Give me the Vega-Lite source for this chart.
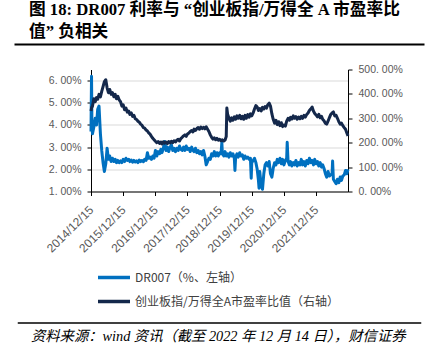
{
  "$schema": "https://vega.github.io/schema/vega-lite/v6.json",
  "background": "white",
  "padding": {"left": 13.5, "top": 1.5, "right": 0, "bottom": 0},
  "title": {
    "text": ["图 18: DR007 利率与 “创业板指/万得全 A 市盈率比", "值” 负相关"],
    "anchor": "start",
    "dx": 15.5,
    "offset": 3,
    "lineHeight": 22,
    "font": "Liberation Serif, Noto Sans CJK SC",
    "fontSize": 16.7,
    "fontWeight": "bold",
    "color": "#000000"
  },
  "datasets": {
    "one": [{"a": 0, "b": 1}],
    "dr": [
      {"d": "2014-12-15", "v": 3.7}, {"d": "2014-12-18", "v": 5.0}, {"d": "2014-12-21", "v": 6.2}, {"d": "2014-12-25", "v": 4.2},
      {"d": "2015-01-01", "v": 3.6}, {"d": "2015-01-16", "v": 3.9}, {"d": "2015-02-01", "v": 4.3}, {"d": "2015-02-16", "v": 4.0},
      {"d": "2015-03-01", "v": 4.7}, {"d": "2015-03-16", "v": 4.85}, {"d": "2015-04-01", "v": 3.6}, {"d": "2015-04-16", "v": 2.85},
      {"d": "2015-05-01", "v": 2.3}, {"d": "2015-05-16", "v": 1.9}, {"d": "2015-06-01", "v": 2.25}, {"d": "2015-06-16", "v": 2.95},
      {"d": "2015-07-01", "v": 2.45}, {"d": "2015-07-16", "v": 2.6}, {"d": "2015-08-01", "v": 2.35}, {"d": "2015-08-16", "v": 2.5},
      {"d": "2015-09-01", "v": 2.35}, {"d": "2015-09-16", "v": 2.45}, {"d": "2015-10-01", "v": 2.3}, {"d": "2015-10-16", "v": 2.4},
      {"d": "2015-11-01", "v": 2.3}, {"d": "2015-11-16", "v": 2.38}, {"d": "2015-12-01", "v": 2.3}, {"d": "2015-12-16", "v": 2.45},
      {"d": "2016-01-01", "v": 2.35}, {"d": "2016-01-16", "v": 2.5}, {"d": "2016-02-01", "v": 2.4}, {"d": "2016-02-16", "v": 2.45},
      {"d": "2016-03-01", "v": 2.35}, {"d": "2016-03-16", "v": 2.42}, {"d": "2016-04-01", "v": 2.32}, {"d": "2016-04-16", "v": 2.4},
      {"d": "2016-05-01", "v": 2.33}, {"d": "2016-05-16", "v": 2.38}, {"d": "2016-06-01", "v": 2.3}, {"d": "2016-06-16", "v": 2.42},
      {"d": "2016-07-01", "v": 2.35}, {"d": "2016-07-16", "v": 2.4}, {"d": "2016-08-01", "v": 2.34}, {"d": "2016-08-16", "v": 2.45},
      {"d": "2016-09-01", "v": 2.4}, {"d": "2016-09-16", "v": 2.75}, {"d": "2016-10-01", "v": 2.5}, {"d": "2016-10-16", "v": 2.55},
      {"d": "2016-11-01", "v": 2.45}, {"d": "2016-11-16", "v": 2.6}, {"d": "2016-12-01", "v": 2.5}, {"d": "2016-12-16", "v": 2.85},
      {"d": "2017-01-01", "v": 2.6}, {"d": "2017-01-16", "v": 2.8}, {"d": "2017-02-01", "v": 2.7}, {"d": "2017-02-16", "v": 2.9},
      {"d": "2017-03-01", "v": 2.75}, {"d": "2017-03-16", "v": 2.95}, {"d": "2017-04-01", "v": 3.25}, {"d": "2017-04-16", "v": 2.85},
      {"d": "2017-05-01", "v": 3.0}, {"d": "2017-05-16", "v": 2.8}, {"d": "2017-06-01", "v": 3.0}, {"d": "2017-06-16", "v": 3.1},
      {"d": "2017-07-01", "v": 2.85}, {"d": "2017-07-16", "v": 2.95}, {"d": "2017-08-01", "v": 2.8}, {"d": "2017-08-16", "v": 2.95},
      {"d": "2017-09-01", "v": 2.85}, {"d": "2017-09-16", "v": 3.05}, {"d": "2017-10-01", "v": 2.9}, {"d": "2017-10-16", "v": 2.85},
      {"d": "2017-11-01", "v": 3.0}, {"d": "2017-11-16", "v": 2.85}, {"d": "2017-12-01", "v": 3.05}, {"d": "2017-12-16", "v": 2.9},
      {"d": "2018-01-01", "v": 2.95}, {"d": "2018-01-16", "v": 2.8}, {"d": "2018-02-01", "v": 3.0}, {"d": "2018-02-16", "v": 2.85},
      {"d": "2018-03-01", "v": 2.8}, {"d": "2018-03-16", "v": 2.95}, {"d": "2018-04-01", "v": 2.75}, {"d": "2018-04-16", "v": 2.85},
      {"d": "2018-05-01", "v": 2.7}, {"d": "2018-05-16", "v": 2.8}, {"d": "2018-06-01", "v": 2.65}, {"d": "2018-06-16", "v": 2.85},
      {"d": "2018-07-01", "v": 2.6}, {"d": "2018-07-16", "v": 2.2}, {"d": "2018-08-01", "v": 2.35}, {"d": "2018-08-16", "v": 2.5},
      {"d": "2018-09-01", "v": 2.45}, {"d": "2018-09-16", "v": 2.7}, {"d": "2018-10-01", "v": 2.6}, {"d": "2018-10-16", "v": 2.8},
      {"d": "2018-11-01", "v": 2.6}, {"d": "2018-11-16", "v": 2.75}, {"d": "2018-12-01", "v": 2.6}, {"d": "2018-12-16", "v": 2.75},
      {"d": "2019-01-01", "v": 2.7}, {"d": "2019-01-10", "v": 3.2}, {"d": "2019-01-16", "v": 2.75}, {"d": "2019-02-01", "v": 2.6},
      {"d": "2019-02-16", "v": 2.8}, {"d": "2019-03-01", "v": 2.6}, {"d": "2019-03-16", "v": 2.7}, {"d": "2019-04-01", "v": 2.55},
      {"d": "2019-04-16", "v": 2.75}, {"d": "2019-05-01", "v": 2.6}, {"d": "2019-05-16", "v": 2.7}, {"d": "2019-06-01", "v": 2.5},
      {"d": "2019-06-08", "v": 1.95}, {"d": "2019-06-16", "v": 2.55}, {"d": "2019-07-01", "v": 2.7}, {"d": "2019-07-16", "v": 2.55},
      {"d": "2019-08-01", "v": 2.75}, {"d": "2019-08-16", "v": 2.6}, {"d": "2019-09-01", "v": 2.65}, {"d": "2019-09-16", "v": 2.45},
      {"d": "2019-10-01", "v": 2.6}, {"d": "2019-10-16", "v": 2.5}, {"d": "2019-11-01", "v": 2.55}, {"d": "2019-11-16", "v": 2.45},
      {"d": "2019-12-01", "v": 2.5}, {"d": "2019-12-10", "v": 1.6}, {"d": "2019-12-16", "v": 2.3},
      {"d": "2020-01-01", "v": 2.4}, {"d": "2020-01-16", "v": 2.5}, {"d": "2020-02-01", "v": 2.3}, {"d": "2020-02-16", "v": 2.0},
      {"d": "2020-03-01", "v": 1.5}, {"d": "2020-03-08", "v": 1.15}, {"d": "2020-03-16", "v": 1.9}, {"d": "2020-04-01", "v": 1.3},
      {"d": "2020-04-16", "v": 1.1}, {"d": "2020-05-01", "v": 1.8}, {"d": "2020-05-16", "v": 2.2}, {"d": "2020-06-01", "v": 2.3},
      {"d": "2020-06-16", "v": 2.15}, {"d": "2020-07-01", "v": 2.35}, {"d": "2020-07-16", "v": 1.8}, {"d": "2020-08-01", "v": 1.65},
      {"d": "2020-08-16", "v": 2.05}, {"d": "2020-09-01", "v": 2.3}, {"d": "2020-09-16", "v": 2.2}, {"d": "2020-10-01", "v": 2.45},
      {"d": "2020-10-16", "v": 2.3}, {"d": "2020-11-01", "v": 2.5}, {"d": "2020-11-16", "v": 2.25}, {"d": "2020-12-01", "v": 2.45},
      {"d": "2020-12-16", "v": 2.2},
      {"d": "2021-01-01", "v": 2.4}, {"d": "2021-01-16", "v": 2.5}, {"d": "2021-01-22", "v": 3.22}, {"d": "2021-02-01", "v": 2.35},
      {"d": "2021-02-16", "v": 2.2}, {"d": "2021-03-01", "v": 2.35}, {"d": "2021-03-16", "v": 2.15}, {"d": "2021-04-01", "v": 2.3},
      {"d": "2021-04-16", "v": 2.2}, {"d": "2021-05-01", "v": 2.4}, {"d": "2021-05-16", "v": 2.15}, {"d": "2021-06-01", "v": 2.3},
      {"d": "2021-06-16", "v": 2.2}, {"d": "2021-07-01", "v": 2.45}, {"d": "2021-07-16", "v": 2.2}, {"d": "2021-08-01", "v": 2.35},
      {"d": "2021-08-16", "v": 2.15}, {"d": "2021-09-01", "v": 2.4}, {"d": "2021-09-16", "v": 2.25}, {"d": "2021-10-01", "v": 2.5},
      {"d": "2021-10-16", "v": 2.3}, {"d": "2021-11-01", "v": 2.4}, {"d": "2021-11-16", "v": 2.2}, {"d": "2021-12-01", "v": 2.45},
      {"d": "2021-12-16", "v": 2.25},
      {"d": "2022-01-01", "v": 2.35}, {"d": "2022-01-16", "v": 2.15}, {"d": "2022-02-01", "v": 2.3}, {"d": "2022-02-16", "v": 2.1},
      {"d": "2022-03-01", "v": 2.2}, {"d": "2022-03-16", "v": 2.05}, {"d": "2022-04-01", "v": 1.8}, {"d": "2022-04-16", "v": 1.65},
      {"d": "2022-05-01", "v": 1.9}, {"d": "2022-05-16", "v": 1.7}, {"d": "2022-06-01", "v": 1.75}, {"d": "2022-06-16", "v": 1.8},
      {"d": "2022-06-22", "v": 2.37}, {"d": "2022-07-01", "v": 1.55}, {"d": "2022-07-16", "v": 1.45}, {"d": "2022-08-01", "v": 1.35},
      {"d": "2022-08-16", "v": 1.55}, {"d": "2022-09-01", "v": 1.4}, {"d": "2022-09-16", "v": 1.65}, {"d": "2022-10-01", "v": 1.5},
      {"d": "2022-10-16", "v": 1.7}, {"d": "2022-11-01", "v": 1.75}, {"d": "2022-11-16", "v": 1.95}, {"d": "2022-12-01", "v": 1.8},
      {"d": "2022-12-14", "v": 2.0}
    ],
    "pe": [
      {"d": "2014-12-15", "v": 330}, {"d": "2014-12-23", "v": 345},
      {"d": "2015-01-01", "v": 350}, {"d": "2015-01-16", "v": 380}, {"d": "2015-02-01", "v": 368}, {"d": "2015-02-16", "v": 385},
      {"d": "2015-03-01", "v": 378}, {"d": "2015-03-16", "v": 398}, {"d": "2015-04-01", "v": 388}, {"d": "2015-04-16", "v": 410},
      {"d": "2015-05-01", "v": 430}, {"d": "2015-05-16", "v": 450}, {"d": "2015-06-01", "v": 458}, {"d": "2015-06-16", "v": 425},
      {"d": "2015-07-01", "v": 405}, {"d": "2015-07-16", "v": 418}, {"d": "2015-08-01", "v": 398}, {"d": "2015-08-16", "v": 405},
      {"d": "2015-09-01", "v": 388}, {"d": "2015-09-16", "v": 398}, {"d": "2015-10-01", "v": 380}, {"d": "2015-10-16", "v": 390},
      {"d": "2015-11-01", "v": 375}, {"d": "2015-11-16", "v": 368}, {"d": "2015-12-01", "v": 350}, {"d": "2015-12-16", "v": 355},
      {"d": "2016-01-01", "v": 335}, {"d": "2016-01-16", "v": 342}, {"d": "2016-02-01", "v": 325}, {"d": "2016-02-16", "v": 330},
      {"d": "2016-03-01", "v": 316}, {"d": "2016-03-16", "v": 322}, {"d": "2016-04-01", "v": 308}, {"d": "2016-04-16", "v": 312},
      {"d": "2016-05-01", "v": 298}, {"d": "2016-05-16", "v": 295}, {"d": "2016-06-01", "v": 288}, {"d": "2016-06-16", "v": 284},
      {"d": "2016-07-01", "v": 276}, {"d": "2016-07-16", "v": 272}, {"d": "2016-08-01", "v": 262}, {"d": "2016-08-16", "v": 260},
      {"d": "2016-09-01", "v": 252}, {"d": "2016-09-16", "v": 248}, {"d": "2016-10-01", "v": 240}, {"d": "2016-10-16", "v": 235},
      {"d": "2016-11-01", "v": 226}, {"d": "2016-11-16", "v": 218}, {"d": "2016-12-01", "v": 212}, {"d": "2016-12-16", "v": 206},
      {"d": "2017-01-01", "v": 200}, {"d": "2017-01-16", "v": 205}, {"d": "2017-02-01", "v": 197}, {"d": "2017-02-16", "v": 203},
      {"d": "2017-03-01", "v": 195}, {"d": "2017-03-16", "v": 204}, {"d": "2017-04-01", "v": 198}, {"d": "2017-04-16", "v": 203},
      {"d": "2017-05-01", "v": 196}, {"d": "2017-05-16", "v": 205}, {"d": "2017-06-01", "v": 199}, {"d": "2017-06-16", "v": 206},
      {"d": "2017-07-01", "v": 200}, {"d": "2017-07-16", "v": 208}, {"d": "2017-08-01", "v": 203}, {"d": "2017-08-16", "v": 210},
      {"d": "2017-09-01", "v": 214}, {"d": "2017-09-16", "v": 207}, {"d": "2017-10-01", "v": 217}, {"d": "2017-10-16", "v": 222},
      {"d": "2017-11-01", "v": 228}, {"d": "2017-11-16", "v": 232}, {"d": "2017-12-01", "v": 226}, {"d": "2017-12-16", "v": 236},
      {"d": "2018-01-01", "v": 240}, {"d": "2018-01-16", "v": 246}, {"d": "2018-02-01", "v": 250}, {"d": "2018-02-16", "v": 244},
      {"d": "2018-03-01", "v": 256}, {"d": "2018-03-16", "v": 250}, {"d": "2018-04-01", "v": 258}, {"d": "2018-04-16", "v": 262},
      {"d": "2018-05-01", "v": 255}, {"d": "2018-05-16", "v": 264}, {"d": "2018-06-01", "v": 258}, {"d": "2018-06-16", "v": 263},
      {"d": "2018-07-01", "v": 257}, {"d": "2018-07-16", "v": 265}, {"d": "2018-08-01", "v": 255}, {"d": "2018-08-16", "v": 246},
      {"d": "2018-09-01", "v": 232}, {"d": "2018-09-16", "v": 222}, {"d": "2018-10-01", "v": 215}, {"d": "2018-10-16", "v": 220},
      {"d": "2018-11-01", "v": 212}, {"d": "2018-11-16", "v": 218}, {"d": "2018-12-01", "v": 210}, {"d": "2018-12-16", "v": 214},
      {"d": "2019-01-01", "v": 208}, {"d": "2019-01-16", "v": 212}, {"d": "2019-02-01", "v": 207}, {"d": "2019-02-16", "v": 211},
      {"d": "2019-03-01", "v": 225}, {"d": "2019-03-08", "v": 342}, {"d": "2019-03-16", "v": 318}, {"d": "2019-04-01", "v": 300},
      {"d": "2019-04-16", "v": 288}, {"d": "2019-05-01", "v": 302}, {"d": "2019-05-16", "v": 292}, {"d": "2019-06-01", "v": 306},
      {"d": "2019-06-16", "v": 296}, {"d": "2019-07-01", "v": 310}, {"d": "2019-07-16", "v": 300}, {"d": "2019-08-01", "v": 312},
      {"d": "2019-08-16", "v": 298}, {"d": "2019-09-01", "v": 308}, {"d": "2019-09-16", "v": 296}, {"d": "2019-10-01", "v": 312},
      {"d": "2019-10-16", "v": 300}, {"d": "2019-11-01", "v": 315}, {"d": "2019-11-16", "v": 305}, {"d": "2019-12-01", "v": 318},
      {"d": "2019-12-16", "v": 310},
      {"d": "2020-01-01", "v": 322}, {"d": "2020-01-16", "v": 338}, {"d": "2020-02-01", "v": 352}, {"d": "2020-02-16", "v": 346},
      {"d": "2020-03-01", "v": 332}, {"d": "2020-03-16", "v": 340}, {"d": "2020-04-01", "v": 330}, {"d": "2020-04-16", "v": 345},
      {"d": "2020-05-01", "v": 338}, {"d": "2020-05-16", "v": 348}, {"d": "2020-06-01", "v": 342}, {"d": "2020-06-16", "v": 356},
      {"d": "2020-07-01", "v": 362}, {"d": "2020-07-16", "v": 350}, {"d": "2020-08-01", "v": 318}, {"d": "2020-08-16", "v": 296},
      {"d": "2020-09-01", "v": 280}, {"d": "2020-09-16", "v": 292}, {"d": "2020-10-01", "v": 274}, {"d": "2020-10-16", "v": 286},
      {"d": "2020-11-01", "v": 270}, {"d": "2020-11-16", "v": 282}, {"d": "2020-12-01", "v": 266}, {"d": "2020-12-16", "v": 272},
      {"d": "2021-01-01", "v": 268}, {"d": "2021-01-16", "v": 288}, {"d": "2021-02-01", "v": 300}, {"d": "2021-02-16", "v": 292},
      {"d": "2021-03-01", "v": 304}, {"d": "2021-03-16", "v": 297}, {"d": "2021-04-01", "v": 310}, {"d": "2021-04-16", "v": 300},
      {"d": "2021-05-01", "v": 307}, {"d": "2021-05-16", "v": 296}, {"d": "2021-06-01", "v": 305}, {"d": "2021-06-16", "v": 298},
      {"d": "2021-07-01", "v": 308}, {"d": "2021-07-16", "v": 300}, {"d": "2021-08-01", "v": 312}, {"d": "2021-08-16", "v": 305},
      {"d": "2021-09-01", "v": 316}, {"d": "2021-09-16", "v": 322}, {"d": "2021-10-01", "v": 332}, {"d": "2021-10-16", "v": 338},
      {"d": "2021-11-01", "v": 346}, {"d": "2021-11-16", "v": 330}, {"d": "2021-12-01", "v": 320}, {"d": "2021-12-16", "v": 314},
      {"d": "2022-01-01", "v": 306}, {"d": "2022-01-16", "v": 316}, {"d": "2022-02-01", "v": 302}, {"d": "2022-02-16", "v": 308},
      {"d": "2022-03-01", "v": 296}, {"d": "2022-03-16", "v": 290}, {"d": "2022-04-01", "v": 280}, {"d": "2022-04-16", "v": 276},
      {"d": "2022-05-01", "v": 288}, {"d": "2022-05-16", "v": 302}, {"d": "2022-06-01", "v": 316}, {"d": "2022-06-16", "v": 322},
      {"d": "2022-07-01", "v": 326}, {"d": "2022-07-16", "v": 310}, {"d": "2022-08-01", "v": 312}, {"d": "2022-08-16", "v": 300},
      {"d": "2022-09-01", "v": 286}, {"d": "2022-09-16", "v": 276}, {"d": "2022-10-01", "v": 280}, {"d": "2022-10-16", "v": 270},
      {"d": "2022-11-01", "v": 262}, {"d": "2022-11-16", "v": 255}, {"d": "2022-12-01", "v": 240}, {"d": "2022-12-14", "v": 228}
    ]
  },
  "vconcat": [
    {
      "width": 410,
      "height": 1,
      "data": {"name": "one"},
      "mark": {"type": "rule", "color": "#000000", "strokeWidth": 2},
      "encoding": {
        "x": {"field": "a", "type": "quantitative", "scale": {"domain": [0, 1], "nice": false, "zero": false}, "axis": null},
        "x2": {"field": "b"},
        "y": {"datum": 0, "type": "quantitative", "scale": {"domain": [0, 1], "nice": false}, "axis": null}
      }
    },
    {
      "width": 257,
      "height": 122,
      "encoding": {
        "x": {
          "field": "d", "type": "temporal",
          "scale": {"domain": [{"year": 2014, "month": 12, "date": 15}, {"year": 2022, "month": 12, "date": 14}]},
          "axis": {
            "title": null,
            "values": [
              {"year": 2014, "month": 12, "date": 15}, {"year": 2015, "month": 12, "date": 15},
              {"year": 2016, "month": 12, "date": 15}, {"year": 2017, "month": 12, "date": 15},
              {"year": 2018, "month": 12, "date": 15}, {"year": 2019, "month": 12, "date": 15},
              {"year": 2020, "month": 12, "date": 15}, {"year": 2021, "month": 12, "date": 15}
            ],
            "format": "%Y/%m/%d",
            "labelAngle": -45,
            "labelAlign": "right",
            "labelBaseline": "middle",
            "labelPadding": 12,
            "labelFontSize": 12,
            "labelOverlap": false,
            "labelFlush": false,
            "labelBound": false,
            "grid": false,
            "tickSize": 4
          }
        }
      },
      "layer": [
        {
          "data": {"name": "dr"},
          "mark": {"type": "line", "strokeWidth": 3, "strokeJoin": "round"},
          "encoding": {
            "y": {
              "field": "v", "type": "quantitative",
              "scale": {"domain": [1, 6.5], "nice": false, "zero": false},
              "axis": {
                "title": null,
                "orient": "left",
                "values": [1, 2, 3, 4, 5, 6],
                "labelExpr": "replace(format(datum.value, '.2f'), '.', '. ') + '%'",
                "grid": true,
                "gridColor": "#d9d9d9",
                "tickSize": 4,
                "labelPadding": 6
              }
            },
            "color": {
              "datum": "DR007（%、左轴）",
              "type": "nominal",
              "scale": {
                "domain": ["DR007（%、左轴）", "创业板指/万得全A市盈率比值（右轴）"],
                "range": ["#0070C0", "#14284B"]
              },
              "legend": {
                "title": null,
                "orient": "none",
                "legendX": 92.5,
                "legendY": 227,
                "direction": "vertical",
                "padding": 0,
                "symbolType": "M-3.2,0H3.2",
                "symbolSize": 100,
                "symbolStrokeWidth": 3.5,
                "labelFont": "Noto Sans CJK SC",
                "labelFontSize": 12,
                "labelColor": "#404040",
                "labelOffset": 14,
                "rowPadding": 10,
                "labelLimit": 400
              }
            }
          }
        },
        {
          "data": {"name": "pe"},
          "mark": {"type": "line", "strokeWidth": 3, "strokeJoin": "round"},
          "encoding": {
            "y": {
              "field": "v", "type": "quantitative",
              "scale": {"domain": [0, 500], "nice": false, "zero": false},
              "axis": {
                "title": null,
                "orient": "right",
                "values": [0, 100, 200, 300, 400, 500],
                "labelExpr": "replace(format(datum.value, '.2f'), '.', '. ') + '%'",
                "grid": false,
                "tickSize": 4,
                "labelPadding": 6
              }
            },
            "color": {"datum": "创业板指/万得全A市盈率比值（右轴）", "type": "nominal"}
          }
        }
      ],
      "resolve": {"scale": {"y": "independent"}, "axis": {"y": "independent"}}
    },
    {
      "width": 403.5,
      "height": 106.5,
      "data": {"name": "one"},
      "mark": {"type": "rule", "color": "#000000", "strokeWidth": 1.5},
      "encoding": {
        "x": {"field": "a", "type": "quantitative", "scale": {"domain": [0, 1], "nice": false, "zero": false}, "axis": null},
        "x2": {"field": "b"},
        "y": {"datum": 0, "type": "quantitative", "scale": {"domain": [0, 1], "nice": false}, "axis": null}
      },
      "title": {
        "text": "资料来源：wind 资讯（截至 2022 年 12 月 14 日），财信证券",
        "orient": "bottom",
        "anchor": "start",
        "dx": 14,
        "offset": 6,
        "font": "Liberation Serif, Noto Sans CJK SC",
        "fontStyle": "italic",
        "fontWeight": "normal",
        "fontSize": 14.3,
        "color": "#000000"
      }
    }
  ],
  "spacing": 25,
  "center": true,
  "bounds": "flush",
  "config": {
    "view": {"stroke": null},
    "font": "Liberation Sans",
    "axis": {
      "domainColor": "#000000",
      "domainWidth": 1,
      "tickColor": "#000000",
      "labelColor": "#595959",
      "labelFont": "Liberation Sans",
      "labelFontSize": 10.5
    }
  }
}
